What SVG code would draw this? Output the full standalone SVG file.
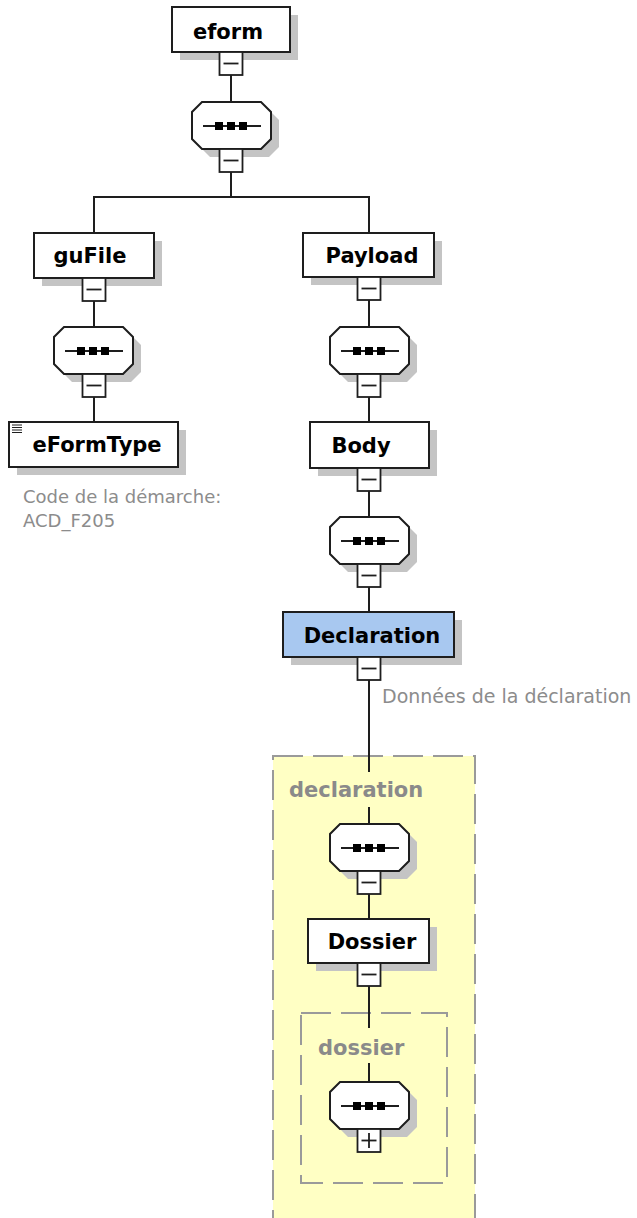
<svg xmlns="http://www.w3.org/2000/svg" width="637" height="1218" viewBox="0 0 637 1218">
<style>
.bg{fill:#ffffff}
.node{fill:#ffffff;stroke:#1e1e1e;stroke-width:2}
.sel{fill:#a8c8f0;stroke:#1e1e1e;stroke-width:2}
.shadow{fill:#c4c4c4}
.lbl{font-family:"DejaVu Sans",Verdana,sans-serif;font-weight:bold;font-size:21px;fill:#000000;text-anchor:middle}
.glbl{font-family:"DejaVu Sans",Verdana,sans-serif;font-weight:bold;font-size:21px;fill:#8a8a8a}
.note{font-family:"DejaVu Sans",Verdana,sans-serif;font-size:18px;fill:#8c8c8c}
.conn{stroke:#1e1e1e;stroke-width:2;fill:none}
.tog{fill:#ffffff;stroke:#1e1e1e;stroke-width:1.8}
.sign{stroke:#1e1e1e;stroke-width:1.8}
.cont{fill:#ffffc4;stroke:#9a9a9a;stroke-width:2;stroke-dasharray:30 10}
.inner{fill:none;stroke:#9a9a9a;stroke-width:2;stroke-dasharray:30 10}
</style>
<defs>
<path id="oct" d="M10,0 H69 L79,10 V37 L69,47 H10 L0,37 V10 Z"/>
<g id="seq">
<use href="#oct" x="8" y="8" class="shadow"/>
<use href="#oct" class="node"/>
<line x1="11" y1="24" x2="69" y2="24" class="sign"/>
<rect x="23" y="20" width="8" height="8" fill="#000"/>
<rect x="35" y="20" width="8" height="8" fill="#000"/>
<rect x="47" y="20" width="8" height="8" fill="#000"/>
</g>
<g id="minus">
<rect x="0" y="0" width="23" height="23" class="tog"/>
<line x1="4" y1="11.5" x2="19" y2="11.5" class="sign"/>
</g>
<g id="plus">
<rect x="0" y="0" width="23" height="23" class="tog"/>
<line x1="4" y1="11.5" x2="19" y2="11.5" class="sign"/>
<line x1="11.5" y1="4" x2="11.5" y2="19" class="sign"/>
</g>
</defs>
<rect width="637" height="1218" class="bg"/>

<g id="declaration-type">
<rect x="273" y="756" width="202" height="480" class="cont"/>
<text x="289" y="797" class="glbl">declaration</text>
</g>
<g id="dossier-type">
<rect x="301" y="1013" width="146" height="170" class="inner"/>
<text x="318" y="1055" class="glbl">dossier</text>
</g>

<g id="connectors">
<line x1="231" y1="75" x2="231" y2="102" class="conn"/>
<line x1="231" y1="172" x2="231" y2="197" class="conn"/>
<polyline points="94,233 94,197 369,197 369,233" class="conn"/>
<line x1="94" y1="301" x2="94" y2="327" class="conn"/>
<line x1="94" y1="397" x2="94" y2="422" class="conn"/>
<line x1="369" y1="300" x2="369" y2="327" class="conn"/>
<line x1="369" y1="397" x2="369" y2="422" class="conn"/>
<line x1="369" y1="491" x2="369" y2="517" class="conn"/>
<line x1="369" y1="587" x2="369" y2="612" class="conn"/>
<line x1="369" y1="680" x2="369" y2="772" class="conn"/>
<line x1="369" y1="807" x2="369" y2="824" class="conn"/>
<line x1="369" y1="894" x2="369" y2="919" class="conn"/>
<line x1="369" y1="986" x2="369" y2="1028" class="conn"/>
<line x1="369" y1="1063" x2="369" y2="1082" class="conn"/>
</g>

<g id="eform">
<rect x="180" y="15" width="118" height="45" class="shadow"/>
<rect x="172" y="7" width="118" height="45" class="node"/>
<text x="228" y="39" class="lbl">eform</text>
<use href="#minus" x="219.5" y="52"/>
</g>
<g id="eform-seq">
<use href="#seq" x="192" y="102"/>
<use href="#minus" x="219.5" y="149"/>
</g>

<g id="guFile">
<rect x="42" y="241" width="120" height="45" class="shadow"/>
<rect x="34" y="233" width="120" height="45" class="node"/>
<text x="90" y="263" class="lbl">guFile</text>
<use href="#minus" x="82.5" y="278"/>
</g>
<g id="guFile-seq">
<use href="#seq" x="54" y="327"/>
<use href="#minus" x="82.5" y="374"/>
</g>
<g id="eFormType">
<rect x="17" y="430" width="169" height="45" class="shadow"/>
<rect x="9" y="422" width="169" height="45" class="node"/>
<g stroke="#1e1e1e" stroke-width="1">
<line x1="12" y1="425" x2="22" y2="425"/>
<line x1="12" y1="427.5" x2="22" y2="427.5"/>
<line x1="12" y1="430" x2="22" y2="430"/>
<line x1="12" y1="432.5" x2="22" y2="432.5"/>
</g>
<text x="97" y="452" class="lbl">eFormType</text>
<text x="23" y="503" class="note">Code de la démarche:</text>
<text x="23" y="527" class="note">ACD_F205</text>
</g>

<g id="Payload">
<rect x="311" y="241" width="131" height="44" class="shadow"/>
<rect x="303" y="233" width="131" height="44" class="node"/>
<text x="372" y="263" class="lbl">Payload</text>
<use href="#minus" x="357.5" y="277"/>
</g>
<g id="Payload-seq">
<use href="#seq" x="330" y="327"/>
<use href="#minus" x="357.5" y="374"/>
</g>
<g id="Body">
<rect x="318" y="430" width="119" height="46" class="shadow"/>
<rect x="310" y="422" width="119" height="46" class="node"/>
<text x="361" y="453" class="lbl">Body</text>
<use href="#minus" x="357.5" y="468"/>
</g>
<g id="Body-seq">
<use href="#seq" x="330" y="517"/>
<use href="#minus" x="357.5" y="564"/>
</g>
<g id="Declaration">
<rect x="291" y="620" width="171" height="45" class="shadow"/>
<rect x="283" y="612" width="171" height="45" class="sel"/>
<text x="372" y="643" class="lbl">Declaration</text>
<use href="#minus" x="357.5" y="657"/>
<text x="382" y="703" class="note" style="font-size:19px">Données de la déclaration</text>
</g>
<g id="declaration-seq">
<use href="#seq" x="330" y="824"/>
<use href="#minus" x="357.5" y="871"/>
</g>
<g id="Dossier">
<rect x="316" y="927" width="121" height="44" class="shadow"/>
<rect x="308" y="919" width="121" height="44" class="node"/>
<text x="372" y="949" class="lbl">Dossier</text>
<use href="#minus" x="357.5" y="963"/>
</g>
<g id="dossier-seq">
<use href="#seq" x="330" y="1082"/>
<use href="#plus" x="357.5" y="1129"/>
</g>
</svg>
